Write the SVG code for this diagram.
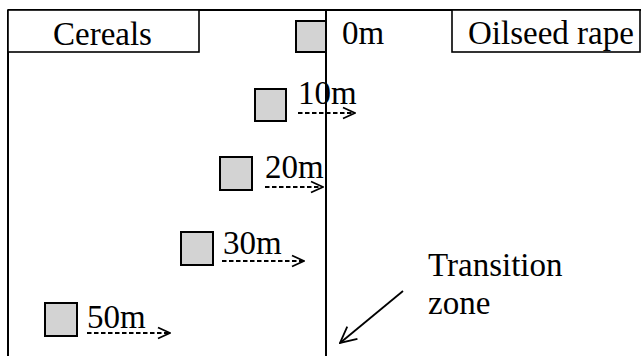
<svg xmlns="http://www.w3.org/2000/svg" width="641" height="356" viewBox="0 0 641 356">
<defs>
<style>
text{font-family:"Liberation Serif","Times New Roman",serif;font-size:33px;fill:#000}
.frame{fill:none;stroke:#000;stroke-width:2}
.box{fill:#fff;stroke:#000;stroke-width:1.6}
.sq{fill:#d3d3d3;stroke:#000;stroke-width:2}
.dash{fill:none;stroke:#000;stroke-width:1.8;stroke-dasharray:4.5 2.5}
.solid{fill:none;stroke:#000;stroke-width:1.8}
</style>
<marker id="ah" viewBox="0 0 14 14" refX="13" refY="7" markerWidth="14" markerHeight="14" markerUnits="userSpaceOnUse" orient="auto">
<path d="M1,1.5 L13,7 L1,12.5" fill="none" stroke="#000" stroke-width="1.8"/>
</marker>
<marker id="ah2" viewBox="0 0 18 18" refX="17" refY="9" markerWidth="18" markerHeight="18" markerUnits="userSpaceOnUse" orient="auto">
<path d="M1,1 L17,9 L1,17" fill="none" stroke="#000" stroke-width="1.8"/>
</marker>
</defs>
<g id="frame">
<line class="frame" x1="8" y1="10" x2="641" y2="10"/>
<line class="frame" x1="8" y1="10" x2="8" y2="356"/>
<line class="frame" x1="326" y1="10" x2="326" y2="356"/>
</g>
<g id="cereals">
<rect class="box" x="8" y="10" width="191" height="42"/>
<text x="53" y="45">Cereals</text>
</g>
<g id="oilseed">
<rect class="box" x="452" y="10" width="188" height="42"/>
<text x="468" y="44">Oilseed rape</text>
</g>
<g id="m0">
<rect class="sq" x="296" y="21" width="30" height="31"/>
<text x="342" y="44">0m</text>
</g>
<g id="m10">
<rect class="sq" x="255" y="89" width="31" height="32"/>
<text x="298" y="104">10m</text>
</g>
<g id="m20">
<rect class="sq" x="220" y="157" width="32" height="33"/>
<text x="265" y="178">20m</text>
</g>
<g id="m30">
<rect class="sq" x="181" y="232" width="32" height="33"/>
<text x="223" y="254">30m</text>
</g>
<g id="m50">
<rect class="sq" x="45" y="303" width="32" height="33"/>
<text x="87" y="328">50m</text>
</g>
<g id="transition">
<text x="428" y="276">Transition</text>
<text x="428" y="314">zone</text>
</g>
<g id="connectors">
<line class="dash" x1="298" y1="113" x2="355" y2="113" marker-end="url(#ah)"/>
<line class="dash" x1="265" y1="187" x2="323" y2="187" marker-end="url(#ah)"/>
<line class="dash" x1="222" y1="261" x2="304" y2="261" marker-end="url(#ah)"/>
<line class="dash" x1="87" y1="333" x2="170" y2="333" marker-end="url(#ah)"/>
<line class="solid" x1="403" y1="291" x2="340" y2="343" marker-end="url(#ah2)"/>
</g>
</svg>
